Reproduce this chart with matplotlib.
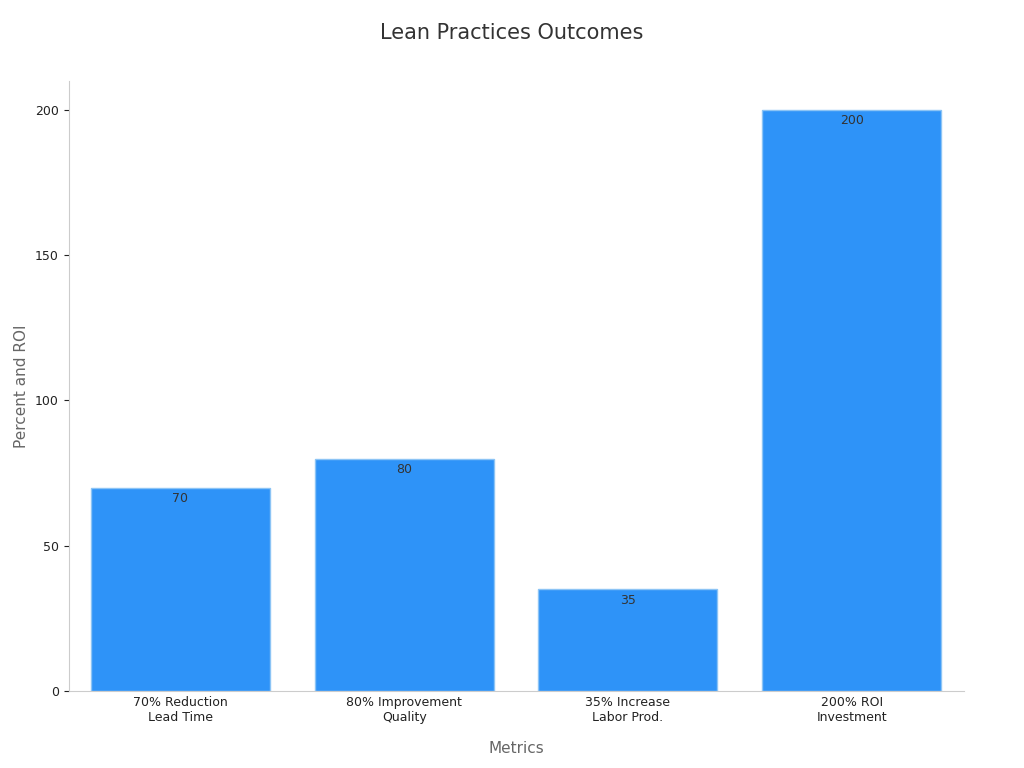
import matplotlib.pyplot as plt

categories = ["70% Reduction\nLead Time", "80% Improvement\nQuality", "35% Increase\nLabor Prod.", "200% ROI\nInvestment"]
values = [70, 80, 35, 200]

fig = plt.figure(figsize=(10.24, 7.68), dpi=100)
ax = fig.add_axes([0.067, 0.1, 0.874, 0.795])
bars = ax.bar(range(len(values)), values, width=0.8, color="#2E93F8", edgecolor="#8cc4f5", linewidth=1)
for i, v in enumerate(values):
    ax.text(i, v - 1.5, str(v), ha="center", va="top", fontsize=9, color="#333333")
ax.set_xticks(range(len(values)))
ax.set_xticklabels(categories, fontsize=9, color="#222222")
ax.set_xlim(-0.5, 3.5)
ax.set_ylim(0, 210)
ax.set_yticks([0, 50, 100, 150, 200])
ax.tick_params(axis="y", labelsize=9, colors="#222222")
ax.tick_params(axis="x", length=0)
for s in ["top", "right"]:
    ax.spines[s].set_visible(False)
ax.spines["left"].set_color("#cccccc")
ax.spines["bottom"].set_color("#cccccc")
ax.set_xlabel("Metrics", fontsize=11, color="#666666", labelpad=12)
ax.set_ylabel("Percent and ROI", fontsize=11, color="#666666")
fig.suptitle("Lean Practices Outcomes", fontsize=15, color="#333333", y=0.97)
fig.savefig("out.png")
